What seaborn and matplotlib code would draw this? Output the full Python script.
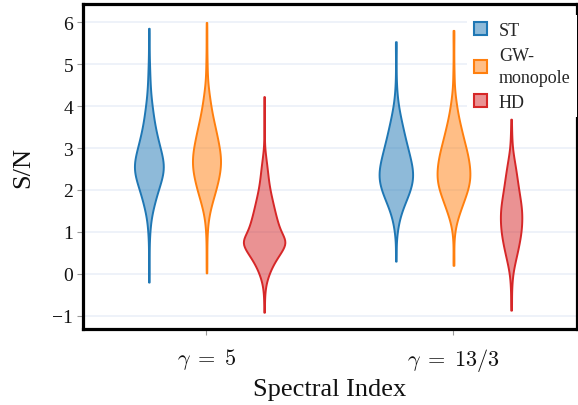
import numpy as np
import pandas as pd
import seaborn as sns
import matplotlib.pyplot as plt
from matplotlib.patches import Patch
from matplotlib.colors import to_rgb

categories = [r"$\gamma\;=\;5$", r"$\gamma\;=\;13/3$"]
series = ["ST", "GW-\nmonopole", "HD"]
colors = ["#1f77b4", "#ff7f0e", "#d62728"]

# S/N levels (bin centres) and the number of realisations at each level
levels = [-1.0, -0.75, -0.5, -0.25, 0.0, 0.25, 0.5, 0.75, 1.0, 1.25, 1.5, 1.75, 2.0, 2.25,
          2.5, 2.75, 3.0, 3.25, 3.5, 3.75, 4.0, 4.25, 4.5, 4.75, 5.0, 5.25, 5.5, 5.75, 6.0]
st_g5_counts = [0, 0, 0, 0, 1, 1, 1, 1, 3, 5, 11, 19, 28, 39,
                47, 43, 34, 26, 19, 14, 10, 6, 4, 3, 2, 1, 1, 1, 0]
gw_g5_counts = [0, 0, 0, 0, 0, 1, 1, 1, 2, 4, 9, 17, 26, 33,
                39, 40, 36, 30, 24, 17, 12, 8, 4, 2, 2, 1, 1, 1, 0]
hd_g5_counts = [0, 1, 2, 6, 18, 36, 62, 90, 62, 50, 40, 31, 22, 16,
                12, 7, 2, 1, 1, 1, 1, 0, 0, 0, 0, 0, 0, 0, 0]
st_g133_counts = [0, 0, 0, 0, 0, 0, 1, 1, 4, 9, 18, 31, 44, 52,
                  51, 44, 36, 28, 21, 14, 8, 4, 2, 1, 1, 1, 1, 0, 0]
gw_g133_counts = [0, 0, 0, 0, 0, 1, 1, 1, 3, 9, 19, 30, 41, 48,
                  47, 43, 36, 28, 21, 14, 9, 5, 2, 2, 1, 1, 1, 1, 0]
hd_g133_counts = [0, 1, 1, 2, 4, 10, 17, 23, 28, 30, 30, 26, 21, 17,
                  13, 8, 3, 2, 1, 0, 0, 0, 0, 0, 0, 0, 0, 0, 0]
# extreme realisations (min, max) of each group
st_g5_ext = [-0.2, 5.86]
gw_g5_ext = [0.02, 6.0]
hd_g5_ext = [-0.92, 4.23]
st_g133_ext = [0.3, 5.54]
gw_g133_ext = [0.2, 5.81]
hd_g133_ext = [-0.87, 3.69]

groups = [
    (categories[0], series[0], st_g5_counts, st_g5_ext),
    (categories[0], series[1], gw_g5_counts, gw_g5_ext),
    (categories[0], series[2], hd_g5_counts, hd_g5_ext),
    (categories[1], series[0], st_g133_counts, st_g133_ext),
    (categories[1], series[1], gw_g133_counts, gw_g133_ext),
    (categories[1], series[2], hd_g133_counts, hd_g133_ext),
]
frames = []
for cat, ser, counts, ext in groups:
    vals = np.concatenate([np.repeat(levels, counts), ext])
    frames.append(pd.DataFrame({"gamma": cat, "model": ser, "snr": vals}))
df = pd.concat(frames, ignore_index=True)

sns.set_theme(style="white")
plt.rcParams["font.family"] = ["Liberation Serif", "DejaVu Serif"]
plt.rcParams["mathtext.fontset"] = "cm"

fig = plt.figure(figsize=(5.78, 4.06), dpi=100)
ax = fig.add_axes([0.1436, 0.1872, 0.8546, 0.8005])

sns.violinplot(data=df, x="gamma", y="snr", hue="model", order=categories,
               hue_order=series, palette=colors, saturation=1, cut=0, inner=None,
               density_norm="count", common_norm=True, width=0.7, gap=0.28,
               bw_adjust=0.8, linewidth=1.4, ax=ax, legend=False)

for coll in ax.collections:
    fc = coll.get_facecolor()
    if len(fc):
        r, g, b, _ = fc[0]
        coll.set_facecolor((r, g, b, 0.5))
        coll.set_edgecolor((r, g, b, 1.0))
        coll.set_linewidth(1.4)

ax.set_xlim(-0.5, 1.5)
ax.set_ylim(-1.32, 6.44)
ax.set_yticks(range(-1, 7))
ax.yaxis.grid(True, color="#EBF0F8", linewidth=1.2)
ax.set_axisbelow(True)
for s in ax.spines.values():
    s.set_visible(True)
    s.set_color("black")
    s.set_linewidth(2.3)
ax.tick_params(axis="both", which="major", direction="out", length=4, width=0.8,
               color="#999999", labelcolor="#111111", pad=3, bottom=True, left=True)
ax.tick_params(axis="y", labelsize=14)
ax.tick_params(axis="x", labelsize=16, pad=8)
ax.set_xlabel("Spectral Index", fontsize=19, color="#111111", labelpad=4)
ax.set_ylabel("S/N", fontsize=19, color="#111111", labelpad=13)

handles = [Patch(facecolor=(*to_rgb(c), 0.5), edgecolor=c, linewidth=1.5, label=s)
           for c, s in zip(colors, series)]
leg = ax.legend(handles=handles, loc="upper right", bbox_to_anchor=(1.0, 0.965),
                fontsize=13, frameon=True, handlelength=0.75, handleheight=0.75,
                handletextpad=0.65, labelspacing=0.44, borderaxespad=0.0, borderpad=0.35)
for t in leg.get_texts():
    t.set_linespacing(1.4)
leg.get_frame().set_facecolor("white")
leg.get_frame().set_edgecolor("none")
leg.get_frame().set_alpha(1.0)
leg.get_frame().set_boxstyle("square", pad=0)

fig.savefig("out.png", dpi=100)
